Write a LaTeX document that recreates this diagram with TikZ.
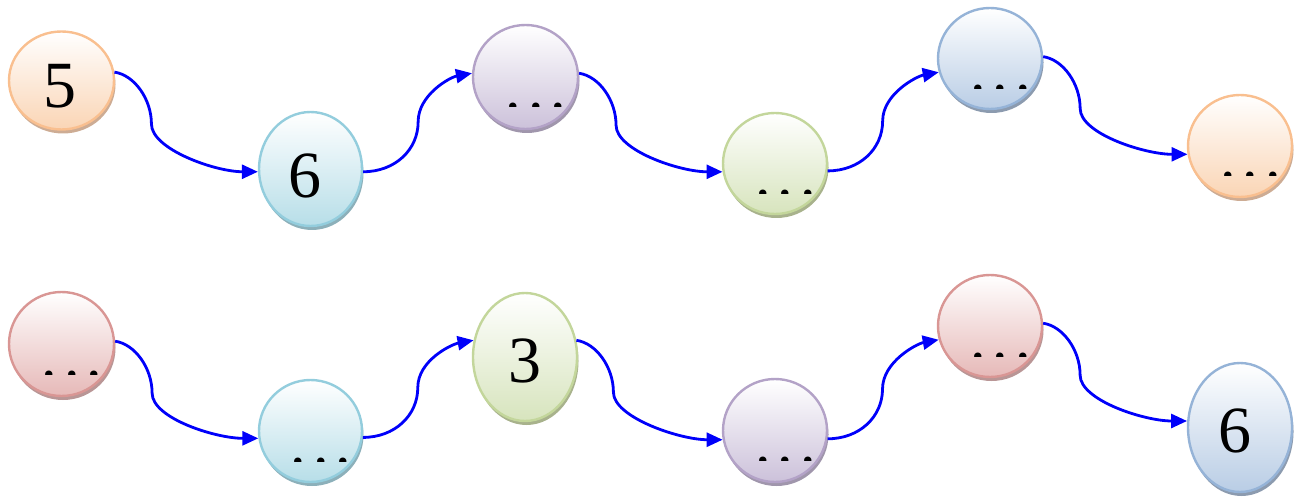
\documentclass[tikz,border=0pt]{standalone}
\usepackage{fontspec}
\setmainfont{Liberation Serif}
\usetikzlibrary{shapes.geometric,shadows,arrows.meta,calc}
\definecolor{orB}{RGB}{249,191,143}\definecolor{orF}{RGB}{250,213,181}\definecolor{orS}{RGB}{205,172,148}
\definecolor{cyB}{RGB}{147,205,221}\definecolor{cyF}{RGB}{183,222,232}\definecolor{cyS}{RGB}{140,176,186}
\definecolor{puB}{RGB}{179,162,199}\definecolor{puF}{RGB}{204,193,218}\definecolor{puS}{RGB}{160,150,172}
\definecolor{grB}{RGB}{195,214,155}\definecolor{grF}{RGB}{215,228,189}\definecolor{grS}{RGB}{168,178,140}
\definecolor{blB}{RGB}{149,179,215}\definecolor{blF}{RGB}{185,205,229}\definecolor{blS}{RGB}{140,155,175}
\definecolor{rdB}{RGB}{217,150,148}\definecolor{rdF}{RGB}{230,185,184}\definecolor{rdS}{RGB}{185,150,150}
\definecolor{connblue}{RGB}{0,0,250}
\tikzset{
  bub/.style={ellipse, draw=#1B, line width=2.4pt, inner sep=0pt, outer sep=1.2pt,
    top color=white, bottom color=#1F,
    general shadow={fill=#1S, shadow xshift=1.5pt, shadow yshift=-4pt}},
  digit/.style={anchor=base, inner sep=0pt, font=\fontsize{66}{66}\selectfont},
  dotst/.style={anchor=base, inner sep=0pt, font=\fontsize{62}{62}\selectfont},
  conn/.style={draw=connblue, line width=2.8pt, -{Triangle[length=16pt,width=14pt]}},
}
\newcommand\dotsin[2]{%
  \begin{scope}
    \clip ($(#1)+(-30,-10)$) rectangle ($(#1)+(50,30)$);
    \node[dotst] (#2) at ($(#1)+(10.5,33)$) {.\kern6.8pt.\kern6.8pt.};
  \end{scope}}
\newcommand\downconn[2]{%
  \draw[conn] (#1) .. controls +(20,3) and +(0,-25) .. ($(#1)+(37,52)$)
    .. controls +(0,25) and +(-43,0) .. (#2);}
\newcommand\upconn[2]{%
  \draw[conn] (#1) .. controls +(32,0) and +(0,28) .. ($(#1)+(55,-50)$)
    .. controls +(0,-27) and +(-22,4) .. (#2);}
\begin{document}
\begin{tikzpicture}[x=1pt,y=-1pt]
\useasboundingbox (0,0) rectangle (1305,502);
% top row
\node[bub=or, minimum width=105, minimum height=98]  (A1) at (61.5,80.5) {};
\node[bub=cy, minimum width=103, minimum height=114] (A2) at (310.5,169) {};
\node[bub=pu, minimum width=105, minimum height=104] (A3) at (525.5,77) {};
\node[bub=gr, minimum width=104, minimum height=101] (A4) at (775,163.5) {};
\node[bub=bl, minimum width=104, minimum height=101] (A5) at (990,58.5) {};
\node[bub=or, minimum width=104, minimum height=102] (A6) at (1240,146) {};
% bottom row
\node[bub=rd, minimum width=105, minimum height=104] (B1) at (61.5,344) {};
\node[bub=cy, minimum width=103, minimum height=102] (B2) at (310.5,431) {};
\node[bub=gr, minimum width=104, minimum height=128] (B3) at (525,357) {};
\node[bub=pu, minimum width=104, minimum height=103] (B4) at (775,430.5) {};
\node[bub=rd, minimum width=104, minimum height=102] (B5) at (990,326) {};
\node[bub=bl, minimum width=104, minimum height=129] (B6) at (1240,427.5) {};
% texts
\node[digit] (A1t) at ($(A1)+(-2,27)$) {5};
\node[digit] (A2t) at ($(A2)+(-6,29)$) {6};
\dotsin{A3}{A3t}
\dotsin{A4}{A4t}
\dotsin{A5}{A5t}
\dotsin{A6}{A6t}
\dotsin{B1}{B1t}
\dotsin{B2}{B2t}
\node[digit] (B3t) at ($(B3)+(0,25)$) {3};
\dotsin{B4}{B4t}
\dotsin{B5}{B5t}
\node[digit] (B6t) at ($(B6)+(-5,25)$) {6};
% connectors
\downconn{A1.9}{A2.183}
\upconn{A2.-3}{A3.176}
\downconn{A3.4}{A4.189}
\upconn{A4.-8}{A5.195}
\downconn{A5.2}{A6.189}
\downconn{B1.3}{B2.188}
\upconn{B2.-7}{B3.162}
\downconn{B3.18}{B4.190}
\upconn{B4.-9}{B5.195}
\downconn{B5.3}{B6.173}
\end{tikzpicture}
\end{document}
